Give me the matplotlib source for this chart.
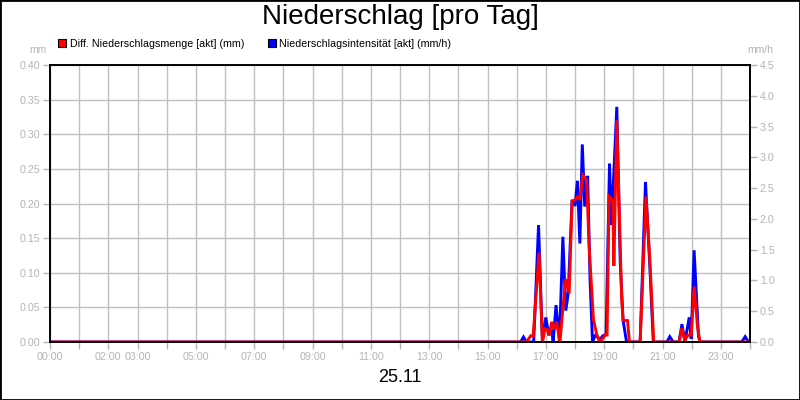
import matplotlib
matplotlib.use("Agg")
import matplotlib.pyplot as plt
from matplotlib.patches import Patch, Rectangle
from matplotlib.transforms import blended_transform_factory
from matplotlib.ticker import FormatStrFormatter

plt.rcParams["font.family"] = ["Liberation Sans", "DejaVu Sans"]

# Diff. Niederschlagsmenge [akt] (mm) -- Zeit in Minuten seit 00:00
menge_min = [0, 980, 989, 994, 1006, 1013, 1018, 1023, 1027, 1032, 1037, 1042,
             1049, 1056, 1061, 1068, 1074, 1079, 1086, 1090, 1096, 1104, 1109,
             1118, 1125, 1131, 1137, 1142, 1146, 1150, 1155, 1158, 1160, 1166,
             1176, 1179, 1188, 1192, 1214, 1226, 1234, 1242, 1294, 1300, 1306,
             1312, 1319, 1325, 1332, 1337, 1440]
menge_mm = [0, 0, 0.009, 0.009, 0.129, 0, 0.019, 0.018, 0.010, 0.029, 0.018, 0.029,
            0, 0.056, 0.091, 0.070, 0.203, 0.205, 0.210, 0.205, 0.241, 0.234, 0.138,
            0.032, 0.010, 0, 0.005, 0.010, 0.010, 0.210, 0.206, 0.200, 0.110, 0.320,
            0.061, 0.031, 0.031, 0, 0, 0.210, 0.118, 0, 0, 0.020, 0.002,
            0.010, 0.010, 0.080, 0.022, 0, 0]

# Niederschlagsintensitaet [akt] (mm/h)
intens_min = [0, 968, 974, 980, 995, 1005, 1013, 1020, 1026, 1032, 1035, 1041,
              1048, 1055, 1061, 1066, 1074, 1080, 1085, 1090, 1095, 1100, 1106,
              1111, 1116, 1121, 1127, 1131, 1137, 1144, 1151, 1155, 1166, 1173,
              1179, 1186, 1214, 1225, 1234, 1241, 1269, 1275, 1282, 1294, 1300,
              1306, 1315, 1319, 1325, 1334, 1337, 1423, 1430, 1437, 1440]
intens_mmh = [0, 0, 0.08, 0, 0, 1.90, 0, 0.40, 0.11, 0.20, 0, 0.60,
              0, 1.71, 0.51, 0.79, 2.31, 2.21, 2.62, 1.60, 3.21, 2.20, 2.70,
              1.00, 0, 0.10, 0.08, 0.03, 0.10, 0.12, 2.90, 1.90, 3.82, 1.30,
              0.35, 0, 0, 2.60, 1.22, 0, 0, 0.086, 0, 0, 0.29,
              0, 0.40, 0.05, 1.49, 0.10, 0, 0, 0.086, 0, 0]

hour_ticks = list(range(0, 1441, 60))
hour_labels = ["00:00", "", "02:00", "03:00", "", "05:00", "", "07:00", "",
               "09:00", "", "11:00", "", "13:00", "", "15:00", "", "17:00", "",
               "19:00", "", "21:00", "", "23:00", ""]
mm_ticks = [0.00, 0.05, 0.10, 0.15, 0.20, 0.25, 0.30, 0.35, 0.40]
mmh_ticks = [0.0, 0.5, 1.0, 1.5, 2.0, 2.5, 3.0, 3.5, 4.0, 4.5]

tick_gray = "#b4b4b4"

fig = plt.figure(figsize=(8, 4), dpi=100)
ax = fig.add_axes([50 / 800, 58 / 400, 700 / 800, 277 / 400])
ax2 = ax.twinx()

ax.set_xlim(0, 1440)
ax.set_ylim(0, 0.40)
ax2.set_ylim(0, 4.5)

# blue series uses the right scale, drawn in the left axes so red stays on top
trans_blue = blended_transform_factory(ax.transData, ax2.transData)
ax.plot(intens_min, intens_mmh, color="#0000ff", lw=2.1, transform=trans_blue,
        zorder=3, solid_joinstyle="miter")
ax.plot(menge_min, menge_mm, color="#ff0000", lw=2.1, zorder=4,
        solid_joinstyle="miter")

ax.set_xticks(hour_ticks)
ax.set_xticklabels(hour_labels)
ax.set_yticks(mm_ticks)
ax.yaxis.set_major_formatter(FormatStrFormatter("%.2f"))
ax2.set_yticks(mmh_ticks)
ax2.yaxis.set_major_formatter(FormatStrFormatter("%.1f"))

ax.grid(True, color="#c0c0c0", lw=1.0)
ax.set_axisbelow(True)
for a in (ax, ax2):
    a.tick_params(colors=tick_gray, labelcolor=tick_gray, labelsize=7.7,
                  length=5, width=1, pad=2)
    for s in a.spines.values():
        s.set_color("black")
        s.set_linewidth(1.2)

fig.text(0.5, 1 - 17 / 400, "Niederschlag [pro Tag]", ha="center", va="center",
         fontsize=20)
fig.text(47 / 800, 1 - 50 / 400, "mm", ha="right", va="center",
         fontsize=7.5, color=tick_gray)
fig.text(760 / 800, 1 - 50 / 400, "mm/h", ha="center", va="center",
         fontsize=7.5, color=tick_gray)
fig.text(0.5, 1 - 378 / 400, "25.11", ha="center", va="center", fontsize=13)

handles = [Patch(facecolor="#ff0000", edgecolor="black", lw=0.8),
           Patch(facecolor="#0000ff", edgecolor="black", lw=0.8)]
labels = ["Diff. Niederschlagsmenge [akt] (mm)",
          "Niederschlagsintensität [akt] (mm/h)"]
fig.legend(handles, labels, loc="center left",
           bbox_to_anchor=(58 / 800, 1 - 44 / 400), ncol=2, frameon=False,
           fontsize=7.7, handlelength=0.75, handleheight=0.75,
           handletextpad=0.35, columnspacing=2.2, borderpad=0, borderaxespad=0)

fig.add_artist(Rectangle((0, 0), 1, 1, transform=fig.transFigure, fill=False,
                         edgecolor="black", lw=2))

fig.savefig("out.png", dpi=100)
